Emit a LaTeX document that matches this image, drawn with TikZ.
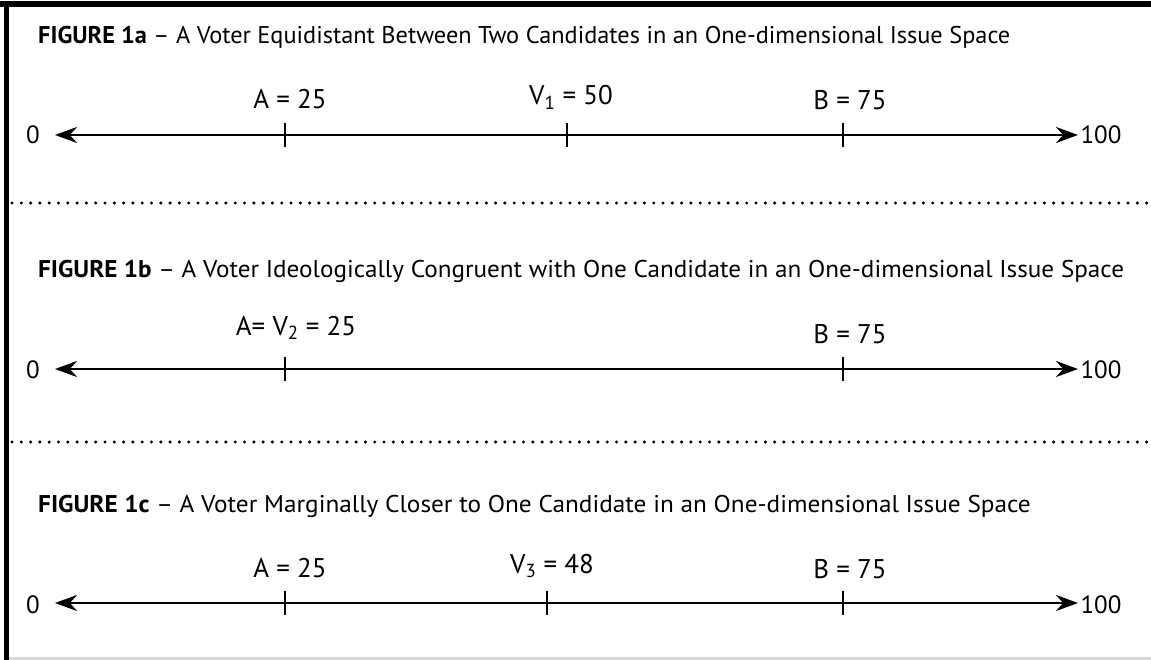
\documentclass[tikz,border=0pt]{standalone}
\usepackage{fontspec}
\setmainfont{PT Sans}
\usetikzlibrary{arrows.meta}
\tikzset{
  titletext/.style={anchor=base west, inner sep=0pt, font=\fontsize{24.2}{28}\selectfont},
  lbl/.style={anchor=base, inner sep=0pt, font=\fontsize{27}{32}\selectfont},
  endlbl/.style={anchor=base, inner sep=0pt, font=\fontsize{25}{30}\selectfont},
  axisline/.style={line width=2.8pt, {Stealth[length=22pt,width=16pt]}-{Stealth[length=22pt,width=16pt]}},
  tickmark/.style={line width=2.4pt},
  sep/.style={line width=3.4pt, line cap=round, dash pattern=on 0pt off 9.3pt},
}
\begin{document}
\begin{tikzpicture}[x=1pt,y=-1pt]
\useasboundingbox (0,0) rectangle (1151,660);
\fill[white] (0,0) rectangle (1151,660);
% borders
\fill[black] (0,1) rectangle (1151,7);
\fill[black] (4,1) rectangle (8.5,660);
\fill[gray!30] (8.5,657) rectangle (1151,660);
% separators
\coordinate (s1l) at (12,203); \coordinate (s1r) at (1151,203);
\coordinate (s2l) at (12,442); \coordinate (s2r) at (1151,442);
\draw[sep] (s1l) -- (s1r);
\draw[sep] (s2l) -- (s2r);

% ---------- Figure 1a ----------
\node[titletext] (ta) at (38,44) {\scalebox{1.006}[1]{\textbf{FIGURE 1a} – A Voter Equidistant Between Two Candidates in an One-dimensional Issue Space}};
\node[endlbl] (za) at (33,144) {0};
\node[endlbl] (ha) at (1101,144) {100};
\coordinate (la) at (55,135); \coordinate (ra) at (1078,135);
\draw[axisline] (la) -- (ra);
\coordinate (aA) at (285,135); \coordinate (aV) at (567,135); \coordinate (aB) at (843,135);
\draw[tickmark] (aA) ++(0,-12) -- ++(0,24);
\draw[tickmark] (aV) ++(0,-12) -- ++(0,24);
\draw[tickmark] (aB) ++(0,-12) -- ++(0,24);
\node[lbl] (laA) at (290,109) {A = 25};
\node[lbl] (laV) at (571,105) {V\textsubscript{1} = 50};
\node[lbl] (laB) at (850,110) {B = 75};

% ---------- Figure 1b ----------
\node[titletext] (tb) at (38,278) {\scalebox{1.04}[1]{\textbf{FIGURE 1b} – A Voter Ideologically Congruent with One Candidate in an One-dimensional Issue Space}};
\node[endlbl] (zb) at (33,378) {0};
\node[endlbl] (hb) at (1101,378) {100};
\coordinate (lb) at (55,369); \coordinate (rb) at (1078,369);
\draw[axisline] (lb) -- (rb);
\coordinate (bA) at (285,369); \coordinate (bB) at (843,369);
\draw[tickmark] (bA) ++(0,-12) -- ++(0,24);
\draw[tickmark] (bB) ++(0,-12) -- ++(0,24);
\node[lbl] (lbA) at (296,335) {A= V\textsubscript{2} = 25};
\node[lbl] (lbB) at (850,343) {B = 75};

% ---------- Figure 1c ----------
\node[titletext] (tc) at (38,512) {\scalebox{1.044}[1]{\textbf{FIGURE 1c} – A Voter Marginally Closer to One Candidate in an One-dimensional Issue Space}};
\node[endlbl] (zc) at (33,613) {0};
\node[endlbl] (hc) at (1101,613) {100};
\coordinate (lc) at (55,603); \coordinate (rc) at (1078,603);
\draw[axisline] (lc) -- (rc);
\coordinate (cA) at (285,603); \coordinate (cV) at (547,603); \coordinate (cB) at (843,603);
\draw[tickmark] (cA) ++(0,-12) -- ++(0,24);
\draw[tickmark] (cV) ++(0,-12) -- ++(0,24);
\draw[tickmark] (cB) ++(0,-12) -- ++(0,24);
\node[lbl] (lcA) at (290,577) {A = 25};
\node[lbl] (lcV) at (552,573) {V\textsubscript{3} = 48};
\node[lbl] (lcB) at (850,578) {B = 75};
\end{tikzpicture}
\end{document}
